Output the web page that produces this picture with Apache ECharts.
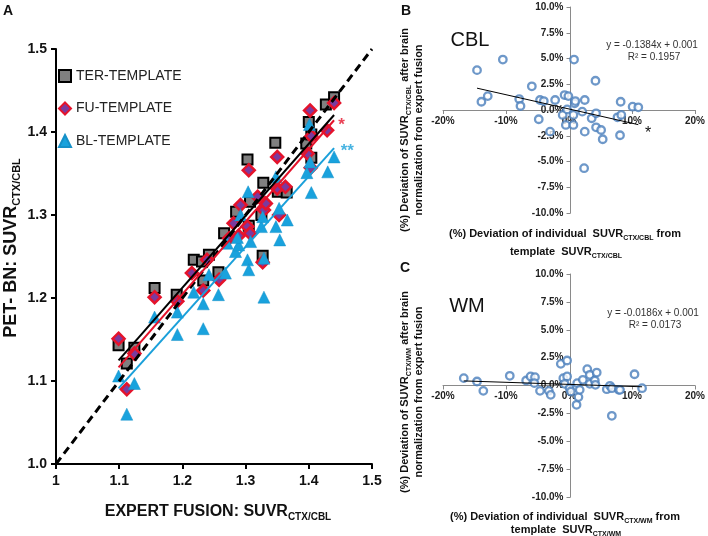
<!DOCTYPE html>
<html><head><meta charset="utf-8">
<script src="https://cdn.jsdelivr.net/npm/echarts@6/dist/echarts.min.js"></script>
<style>html,body{margin:0;padding:0;background:#fff}#c{width:708px;height:536px}</style>
</head><body><div id="c"></div>
<script>
// ---------- Panel A data ----------
const terX = [1.099,1.112,1.124,1.156,1.191,1.218,1.231,1.233,1.242,1.257,1.266,1.285,1.305,1.307,1.303,1.325,1.328,1.327,1.347,1.351,1.365,1.396,1.404,1.400,1.404,1.427,1.440];
const terY = [1.143,1.121,1.140,1.212,1.204,1.246,1.244,1.221,1.252,1.231,1.278,1.304,1.287,1.316,1.367,1.300,1.339,1.251,1.387,1.328,1.327,1.386,1.397,1.412,1.369,1.433,1.442];
const fuX = [1.099,1.112,1.124,1.156,1.192,1.215,1.233,1.239,1.258,1.274,1.281,1.289,1.292,1.303,1.307,1.305,1.319,1.327,1.329,1.332,1.350,1.350,1.353,1.363,1.398,1.403,1.402,1.404,1.429,1.440];
const fuY = [1.151,1.090,1.133,1.201,1.196,1.230,1.209,1.246,1.222,1.272,1.290,1.275,1.312,1.286,1.278,1.354,1.322,1.243,1.306,1.314,1.370,1.332,1.300,1.334,1.374,1.357,1.426,1.395,1.402,1.435];
const blX = [1.099,1.112,1.124,1.156,1.192,1.192,1.218,1.233,1.233,1.242,1.257,1.268,1.271,1.284,1.289,1.287,1.292,1.303,1.305,1.304,1.308,1.325,1.327,1.329,1.329,1.348,1.348,1.353,1.354,1.366,1.401,1.402,1.397,1.404,1.430,1.440];
const blY = [1.106,1.060,1.097,1.177,1.183,1.156,1.207,1.193,1.163,1.228,1.204,1.230,1.266,1.256,1.264,1.273,1.300,1.246,1.234,1.328,1.268,1.286,1.298,1.248,1.201,1.346,1.286,1.308,1.270,1.294,1.409,1.364,1.351,1.327,1.352,1.370];
const seriesNamesA = ['TER-TEMPLATE','FU-TEMPLATE','BL-TEMPLATE'];
const fitSlopeA = [0.867, 0.873, 0.849];
const fitInterceptA = [0.172, 0.157, 0.158];
const fitRangeA = [1.099, 1.44];
const identityRange = [1.0, 1.5];
const starLabels = ['*', '**'];
const starX = [1.452, 1.461];
const starY = [1.408, 1.377];
const ticksA = [1.0, 1.1, 1.2, 1.3, 1.4, 1.5];

// ---------- Panel B (CBL) data, % ----------
const cblDevX = [-14.6,-10.5,0.8,-13.9,-12.9,-7.9,-7.7,-5.9,-4.6,-4.0,-4.8,-3.0,-2.2,-0.7,-0.1,-1.0,-0.5,-0.3,0.7,0.9,1.0,0.7,2.1,2.5,2.5,2.4,4.2,3.6,4.3,4.3,5.1,5.35,7.7,8.2,8.3,8.1,10.1,11.0];
const cblDevY = [3.87,4.9,4.9,0.8,1.35,1.06,0.39,2.3,0.97,0.87,-0.9,-2.1,0.97,1.45,1.35,-0.48,-1.45,0.06,-0.48,0.65,0.87,-1.45,-0.16,0.97,-2.1,-5.65,2.84,-0.8,-0.32,-1.68,-1.94,-2.84,-0.71,0.8,-0.48,-2.45,0.32,0.26];
const cblTrend = [-0.1384, 0.001];
const cblEq = ['y = -0.1384x + 0.001', 'R² = 0.1957'];

// ---------- Panel C (WM) data, % ----------
const wmDevX = [-16.7,-14.6,-13.6,-9.4,-6.8,-6.1,-5.4,-5.5,-4.6,-3.2,-2.9,-1.3,-0.3,-0.9,-0.3,-0.7,0.1,0.3,1.3,1.2,1.5,1.7,2.2,2.9,3.3,3.3,4.1,4.2,4.4,6.0,6.5,6.8,6.8,7.9,8.1,10.4,11.6];
const wmDevY = [0.66,0.36,-0.48,0.87,0.45,0.81,0.75,0.21,-0.48,-0.48,-0.84,1.94,2.24,0.66,0.81,0.15,-0.24,-0.54,0.21,-1.73,-1.04,-0.39,0.51,1.46,0.96,0.15,0.45,0.06,1.16,-0.33,-0.03,-0.24,-2.72,-0.39,-0.39,1.01,-0.24];
const wmTrend = [-0.0186, 0.001];
const wmEq = ['y = -0.0186x + 0.001', 'R² = 0.0173'];
const devTicksX = [-20, -10, 0, 10, 20];
const devTicksY = [-10, -7.5, -5, -2.5, 0, 2.5, 5, 7.5, 10];

// ---------- helpers ----------
const FONT = 'Arial, "Liberation Sans", Helvetica, sans-serif';
const pairs = (xs, ys) => xs.map((x, i) => [x, ys[i]]);
const fit = (m, b, x0, x1) => [[x0, m * x0 + b], [x1, m * x1 + b]];
const pctFit = (t, xs) => { const a = Math.min(...xs), z = Math.max(...xs); return fit(t[0], t[1] * 100, a, z); };

const chart = echarts.init(document.getElementById('c'), null, {renderer: 'canvas'});

const GB = {left: 443, top: 7, width: 255, height: 206};
const GC = {left: 443, top: 274, width: 255, height: 223};

function axisA(isY) {
  return {
    type: 'value', gridIndex: 0, min: ticksA[0], max: ticksA[ticksA.length - 1], interval: 0.1,
    axisLine: {show: true, onZero: false, lineStyle: {color: '#000', width: 2}},
    axisTick: {show: true, length: 5, lineStyle: {color: '#000', width: 2}},
    axisLabel: {fontFamily: FONT, fontWeight: 'bold', fontSize: 14, color: '#111', margin: isY ? 9 : 10,
      formatter: isY ? (v => v.toFixed(1)) : (v => String(+v.toFixed(1)))},
    splitLine: {show: false}
  };
}
function axisDev(idx, isY, g) {
  const xs = devTicksX, ys = devTicksY;
  // axes cross at zero: shift each axis into the middle of its grid
  const off = isY ? -g.width * (0 - xs[0]) / (xs[xs.length - 1] - xs[0])
                  : -g.height * (0 - ys[0]) / (ys[ys.length - 1] - ys[0]);
  return {
    type: 'value', gridIndex: idx, offset: off, position: isY ? 'left' : 'bottom',
    min: isY ? ys[0] : xs[0], max: isY ? ys[ys.length - 1] : xs[xs.length - 1],
    interval: isY ? 2.5 : 10,
    axisLine: {show: true, onZero: false, lineStyle: {color: '#8a8a8a', width: 1}},
    axisTick: {show: true, length: 4, lineStyle: {color: '#8a8a8a', width: 1}},
    axisLabel: {fontFamily: FONT, fontWeight: 'bold', fontSize: 10, color: '#222', margin: isY ? 7 : 6,
      formatter: isY ? (v => v.toFixed(1) + '%') : (v => v + '%')},
    splitLine: {show: false}
  };
}

const subRich = (main, sub) => ({
  m: {fontFamily: FONT, fontWeight: 'bold', fontSize: main, fill: '#111', color: '#111'},
  s: {fontFamily: FONT, fontWeight: 'bold', fontSize: sub, fill: '#111', color: '#111', verticalAlign: 'bottom', padding: [0, 0, -2, 0]}
});
function richText(x, y, text, main, sub, rot) {
  return {type: 'text', x: x, y: y, rotation: rot || 0, z: 100,
    style: {text: text, rich: subRich(main, sub), align: 'center', verticalAlign: 'middle', textAlign: 'center', textVerticalAlign: 'middle', fill: '#111'}};
}
function plainText(x, y, text, size, weight, color) {
  return {type: 'text', x: x, y: y, z: 100,
    style: {text: text, font: (weight || 'normal') + ' ' + size + 'px ' + FONT, fill: color || '#111', textAlign: 'center', textVerticalAlign: 'middle', align: 'center', verticalAlign: 'middle'}};
}

const colors = {ter: '#808080', terB: '#000', fuFill: '#7b3a9e', fuB: '#e5132b', bl: '#19a2dd', red: '#e5132b', blue: '#1aa0da', dev: '#4a7ebb'};

const option = {
  animation: false,
  backgroundColor: '#fff',
  grid: [
    {left: 56, top: 49, width: 316, height: 415},
    GB, GC
  ],
  xAxis: [axisA(false), axisDev(1, false, GB), axisDev(2, false, GC)],
  yAxis: [axisA(true), axisDev(1, true, GB), axisDev(2, true, GC)],
  legend: {
    data: seriesNamesA, orient: 'vertical', left: 58, top: 69, padding: 0, itemGap: 18.5, itemWidth: 12, itemHeight: 12,
    textStyle: {fontFamily: FONT, fontSize: 14, color: '#222'}
  },
  series: [
    {name: seriesNamesA[0], type: 'scatter', xAxisIndex: 0, yAxisIndex: 0, symbol: 'rect', symbolSize: 10, z: 2,
      itemStyle: {color: colors.ter, borderColor: colors.terB, borderWidth: 2, opacity: 1}, data: pairs(terX, terY)},
    {name: seriesNamesA[1], type: 'scatter', xAxisIndex: 0, yAxisIndex: 0, symbol: 'diamond', symbolSize: 12, z: 3,
      itemStyle: {color: colors.fuFill, borderColor: colors.fuB, borderWidth: 2.5, opacity: 1}, data: pairs(fuX, fuY)},
    {name: seriesNamesA[2], type: 'scatter', xAxisIndex: 0, yAxisIndex: 0, symbol: 'triangle', symbolSize: 12, z: 4,
      itemStyle: {color: colors.bl, borderColor: '#1590c8', borderWidth: 0.5, opacity: 1}, data: pairs(blX, blY)},
    {type: 'line', xAxisIndex: 0, yAxisIndex: 0, symbol: 'none', z: 5, silent: true,
      lineStyle: {color: '#000', width: 3, type: [8, 5]}, data: [[identityRange[0], identityRange[0]], [identityRange[1], identityRange[1]]]},
    {type: 'line', xAxisIndex: 0, yAxisIndex: 0, symbol: 'none', z: 6, silent: true,
      lineStyle: {color: '#000', width: 2}, data: fit(fitSlopeA[0], fitInterceptA[0], fitRangeA[0], fitRangeA[1])},
    {type: 'line', xAxisIndex: 0, yAxisIndex: 0, symbol: 'none', z: 6, silent: true,
      lineStyle: {color: colors.red, width: 2}, data: fit(fitSlopeA[1], fitInterceptA[1], fitRangeA[0], fitRangeA[1])},
    {type: 'line', xAxisIndex: 0, yAxisIndex: 0, symbol: 'none', z: 6, silent: true,
      lineStyle: {color: colors.blue, width: 2}, data: fit(fitSlopeA[2], fitInterceptA[2], fitRangeA[0], fitRangeA[1])},
    {type: 'scatter', xAxisIndex: 0, yAxisIndex: 0, symbolSize: 0, z: 7, silent: true,
      itemStyle: {color: 'rgba(0,0,0,0)'},
      label: {show: true, position: 'inside', fontFamily: FONT, fontSize: 17, fontWeight: 'bold',
        formatter: p => starLabels[p.dataIndex]},
      data: [
        {value: [starX[0], starY[0]], label: {color: colors.red}},
        {value: [starX[1], starY[1]], label: {color: colors.blue}}
      ]},
    // panel B
    {type: 'scatter', xAxisIndex: 1, yAxisIndex: 1, symbol: 'circle', symbolSize: 7.5,
      itemStyle: {color: '#fff', borderColor: colors.dev, borderWidth: 2.3}, data: pairs(cblDevX, cblDevY)},
    {type: 'line', xAxisIndex: 1, yAxisIndex: 1, symbol: 'none', z: 5, silent: true,
      lineStyle: {color: '#000', width: 1}, data: pctFit(cblTrend, cblDevX)},
    // panel C
    {type: 'scatter', xAxisIndex: 2, yAxisIndex: 2, symbol: 'circle', symbolSize: 7.5,
      itemStyle: {color: '#fff', borderColor: colors.dev, borderWidth: 2.3}, data: pairs(wmDevX, wmDevY)},
    {type: 'line', xAxisIndex: 2, yAxisIndex: 2, symbol: 'none', z: 5, silent: true,
      lineStyle: {color: '#000', width: 1}, data: pctFit(wmTrend, wmDevX)}
  ],
  graphic: [
    plainText(8, 11, 'A', 14, 'bold', '#111'),
    plainText(406, 11, 'B', 14, 'bold', '#111'),
    plainText(405, 268, 'C', 14, 'bold', '#111'),
    richText(218, 512, '{m|EXPERT FUSION: SUVR}{s|CTX/CBL}', 16, 10, 0),
    richText(11, 248, '{m|PET- BN: SUVR}{s|CTX/CBL}', 18, 11, Math.PI / 2),
    // panel B texts
    plainText(470, 40, 'CBL', 20, 'normal', '#111'),
    plainText(652, 45, cblEq[0], 10, 'normal', '#333'),
    plainText(654, 57, cblEq[1], 10, 'normal', '#333'),
    plainText(648, 134, '*', 16, 'normal', '#111'),
    richText(405, 130, '{m|(%) Deviation of SUVR}{s|CTX/CBL}{m| after brain}', 11, 7, Math.PI / 2),
    richText(419, 130, '{m|normalization from expert fusion}', 11, 7, Math.PI / 2),
    richText(565, 234, '{m|(%) Deviation of individual  SUVR}{s|CTX/CBL}{m| from}', 11, 7, 0),
    richText(566, 252, '{m|template  SUVR}{s|CTX/CBL}', 11, 7, 0),
    // panel C texts
    plainText(467, 306, 'WM', 20, 'normal', '#111'),
    plainText(653, 313, wmEq[0], 10, 'normal', '#333'),
    plainText(655, 325, wmEq[1], 10, 'normal', '#333'),
    richText(405, 392, '{m|(%) Deviation of SUVR}{s|CTX/WM}{m| after brain}', 11, 7, Math.PI / 2),
    richText(419, 392, '{m|normalization from expert fusion}', 11, 7, Math.PI / 2),
    richText(565, 517, '{m|(%) Deviation of individual  SUVR}{s|CTX/WM}{m| from}', 11, 7, 0),
    richText(566, 530, '{m|template  SUVR}{s|CTX/WM}', 11, 7, 0)
  ]
};
chart.setOption(option);
</script>
</body></html>
